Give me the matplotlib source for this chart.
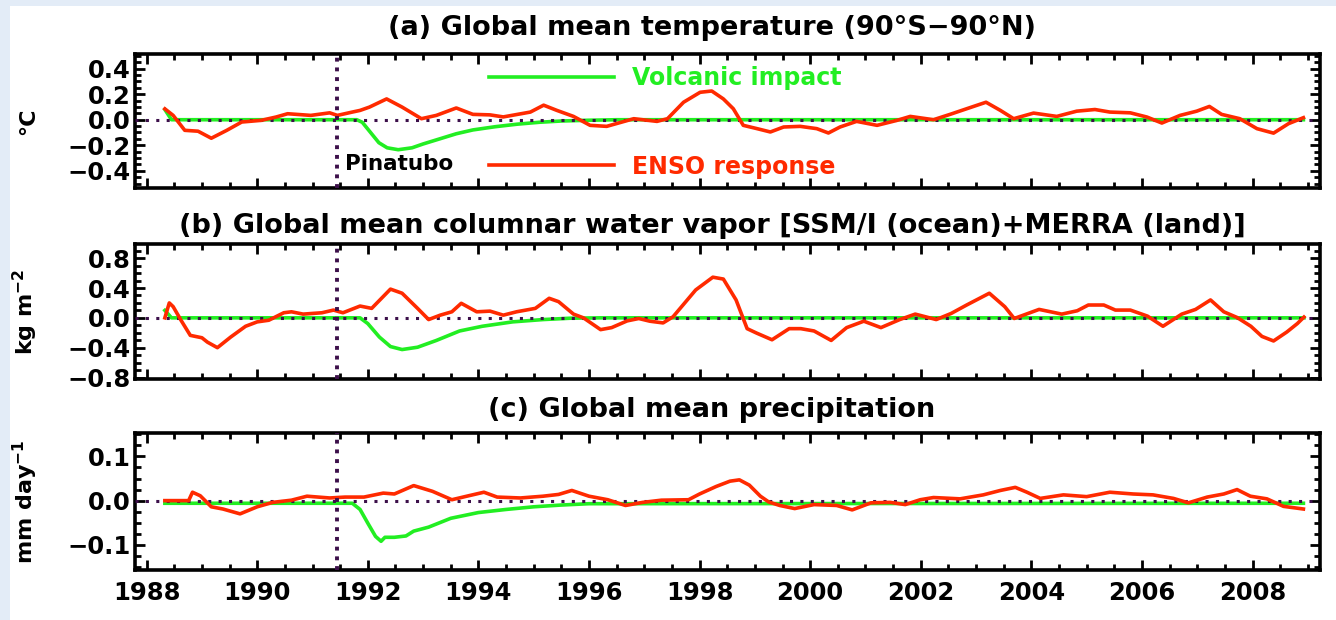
import matplotlib
matplotlib.use("Agg")
import matplotlib.pyplot as plt
from matplotlib.patches import Rectangle
from matplotlib.ticker import MultipleLocator, FuncFormatter
import numpy as np

# ---------------- data ----------------
# (a) temperature, degC
t_enso_yr = [1988.33, 1988.48, 1988.69, 1988.93, 1989.17, 1989.45, 1989.72, 1990.07, 1990.34, 1990.55,
             1990.97, 1991.31, 1991.45, 1991.72, 1991.86, 1992.03, 1992.34, 1992.62, 1992.97, 1993.24,
             1993.6, 1993.9, 1994.21, 1994.45, 1994.94, 1995.18, 1995.42, 1995.72, 1996.02, 1996.32,
             1996.81, 1997.23, 1997.42, 1997.71, 1998.01, 1998.22, 1998.43, 1998.61, 1998.79, 1999.04,
             1999.28, 1999.52, 1999.82, 2000.12, 2000.33, 2000.54, 2000.84, 2001.21, 2001.57, 2001.81,
             2002.23, 2002.53, 2002.83, 2003.18, 2003.44, 2003.68, 2004.04, 2004.46, 2004.82, 2005.15,
             2005.42, 2005.79, 2006.09, 2006.36, 2006.69, 2006.99, 2007.22, 2007.44, 2007.77, 2008.08,
             2008.38, 2008.65, 2008.92]
t_enso = [0.085, 0.034, -0.083, -0.09, -0.145, -0.083, -0.018, -0.005, 0.021, 0.047,
          0.034, 0.054, 0.034, 0.06, 0.073, 0.099, 0.163, 0.099, 0.008, 0.034,
          0.092, 0.042, 0.038, 0.022, 0.06, 0.114, 0.073, 0.026, -0.044, -0.052,
          0.008, -0.013, 0.008, 0.137, 0.215, 0.225, 0.163, 0.086, -0.044, -0.07,
          -0.096, -0.057, -0.052, -0.07, -0.104, -0.057, -0.013, -0.044, -0.005, 0.026,
          0.0, 0.042, 0.086, 0.137, 0.073, 0.008, 0.052, 0.026, 0.067, 0.08,
          0.06, 0.054, 0.021, -0.026, 0.034, 0.067, 0.104, 0.042, 0.008, -0.07,
          -0.105, -0.031, 0.016]
t_volc_yr = [1988.33, 1988.45, 1991.8, 1991.9, 1992.05, 1992.2, 1992.35, 1992.55, 1992.8, 1993.0,
             1993.3, 1993.6, 1993.9, 1994.3, 1994.7, 1995.1, 1995.5, 1996.0, 1996.5, 2008.92]
t_volc = [0.08, 0.0, 0.0, -0.02, -0.1, -0.18, -0.22, -0.235, -0.22, -0.19,
          -0.15, -0.11, -0.08, -0.055, -0.035, -0.02, -0.01, -0.004, 0.0, 0.0]

# (b) columnar water vapor, kg m-2
w_enso_yr = [1988.33, 1988.41, 1988.48, 1988.62, 1988.79, 1989.0, 1989.1, 1989.28, 1989.52, 1989.79,
             1990.0, 1990.21, 1990.48, 1990.62, 1990.83, 1991.17, 1991.38, 1991.55, 1991.86, 1992.07,
             1992.41, 1992.62, 1992.9, 1993.1, 1993.31, 1993.52, 1993.69, 1993.97, 1994.21, 1994.45,
             1994.69, 1995.03, 1995.28, 1995.45, 1995.72, 1995.9, 1996.21, 1996.41, 1996.69, 1996.9,
             1997.1, 1997.34, 1997.52, 1997.93, 1998.24, 1998.43, 1998.66, 1998.86, 1999.03, 1999.31,
             1999.62, 1999.83, 2000.07, 2000.38, 2000.66, 2000.97, 2001.28, 2001.62, 2001.9, 2002.28,
             2002.55, 2002.83, 2003.24, 2003.52, 2003.69, 2004.14, 2004.55, 2004.83, 2005.03, 2005.31,
             2005.52, 2005.79, 2006.1, 2006.38, 2006.72, 2006.97, 2007.24, 2007.48, 2007.72, 2007.97,
             2008.17, 2008.38, 2008.62, 2008.81, 2008.93]
w_enso = [0.0, 0.2, 0.15, -0.03, -0.235, -0.267, -0.326, -0.4, -0.258, -0.113,
          -0.054, -0.032, 0.068, 0.081, 0.05, 0.068, 0.104, 0.068, 0.158, 0.127,
          0.385, 0.33, 0.127, -0.023, 0.036, 0.081, 0.195, 0.081, 0.09, 0.036,
          0.081, 0.127, 0.262, 0.217, 0.05, 0.0, -0.158, -0.131, -0.041, -0.009,
          -0.045, -0.068, 0.014, 0.374, 0.545, 0.52, 0.24, -0.145, -0.204, -0.294,
          -0.145, -0.145, -0.176, -0.303, -0.131, -0.045, -0.131, -0.023, 0.05, -0.023,
          0.059, 0.172, 0.33, 0.149, -0.009, 0.113, 0.05, 0.095, 0.172, 0.172,
          0.104, 0.104, 0.023, -0.113, 0.05, 0.113, 0.24, 0.081, 0.005, -0.113,
          -0.249, -0.31, -0.19, -0.077, 0.01]
w_volc_yr = [1988.33, 1988.45, 1991.86, 1992.0, 1992.21, 1992.41, 1992.62, 1992.9, 1993.24, 1993.66,
             1994.07, 1994.62, 1995.17, 1995.66, 1996.2, 2008.93]
w_volc = [0.1, 0.0, 0.0, -0.077, -0.258, -0.385, -0.425, -0.394, -0.303, -0.176,
          -0.113, -0.054, -0.023, -0.005, 0.0, 0.0]

# (c) precipitation, mm day-1
p_enso_yr = [1988.33, 1988.76, 1988.83, 1988.97, 1989.17, 1989.38, 1989.69, 1990.0, 1990.28, 1990.62,
             1990.9, 1991.31, 1991.59, 1991.93, 1992.28, 1992.48, 1992.83, 1993.17, 1993.52, 1993.79,
             1994.1, 1994.34, 1994.76, 1995.17, 1995.45, 1995.69, 1996.0, 1996.34, 1996.66, 1996.97,
             1997.31, 1997.8, 1998.0, 1998.3, 1998.55, 1998.72, 1998.9, 1999.1, 1999.25, 1999.45,
             1999.72, 2000.07, 2000.48, 2000.76, 2001.1, 2001.45, 2001.72, 2001.99, 2002.23, 2002.71,
             2003.13, 2003.44, 2003.71, 2003.92, 2004.16, 2004.58, 2005.0, 2005.42, 2005.84, 2006.2,
             2006.57, 2006.84, 2007.18, 2007.48, 2007.72, 2007.96, 2008.26, 2008.56, 2008.92]
p_enso = [0.0, 0.0, 0.019, 0.011, -0.014, -0.019, -0.03, -0.014, -0.004, 0.001,
          0.01, 0.006, 0.008, 0.008, 0.017, 0.015, 0.034, 0.021, 0.002, 0.01,
          0.019, 0.008, 0.006, 0.01, 0.014, 0.023, 0.01, 0.002, -0.011, -0.004,
          0.001, 0.002, 0.015, 0.032, 0.044, 0.047, 0.035, 0.01, -0.003, -0.011,
          -0.018, -0.009, -0.011, -0.021, -0.005, -0.004, -0.009, 0.002, 0.007, 0.004,
          0.013, 0.023, 0.03, 0.019, 0.005, 0.013, 0.009, 0.019, 0.015, 0.013,
          0.005, -0.005, 0.008, 0.015, 0.025, 0.01, 0.004, -0.013, -0.019]
p_volc_yr = [1988.33, 1991.72, 1991.86, 1992.0, 1992.14, 1992.24, 1992.31, 1992.48, 1992.69, 1992.83,
             1993.1, 1993.5, 1994.0, 1994.5, 1995.0, 1995.5, 1996.0, 2008.92]
p_volc = [-0.006, -0.006, -0.02, -0.051, -0.081, -0.092, -0.083, -0.083, -0.08, -0.069,
          -0.06, -0.04, -0.027, -0.02, -0.014, -0.01, -0.007, -0.006]

pinatubo_year = 1991.45

titles = ["(a) Global mean temperature (90\u00b0S\u221290\u00b0N)",
          "(b) Global mean columnar water vapor [SSM/I (ocean)+MERRA (land)]",
          "(c) Global mean precipitation"]
ylabels = ["\u00b0C", "kg m$^{\\mathbf{-2}}$", "mm day$^{\\mathbf{-1}}$"]
ylims = [(-0.535, 0.515), (-0.82, 0.99), (-0.157, 0.153)]
ymajor = [0.2, 0.4, 0.1]
yminor = [0.05, 0.1, 0.025]
xtick_years = list(range(1988, 2009, 2))

# ---------------- style ----------------
RED = "#ff2a00"
GREEN = "#22ee22"
PURPLE = "#3c0f4a"
BG = "#e3ecf7"

plt.rcParams["font.family"] = ["DejaVu Sans"]
plt.rcParams["font.weight"] = "bold"
plt.rcParams["mathtext.default"] = "bf"

fig = plt.figure(figsize=(13.36, 6.2), dpi=100, facecolor=BG)
fig.patches.append(Rectangle((10 / 1336, 0), 1 - 10 / 1336, 1 - 6 / 620,
                             transform=fig.transFigure, facecolor="white",
                             edgecolor="none", zorder=-10))

W, H = 1336.0, 620.0
boxes = [(135, 54, 1320, 188), (135, 244, 1320, 379), (135, 433, 1320, 570)]
title_y = [28, 226, 410]

series = [(t_enso_yr, t_enso, t_volc_yr, t_volc),
          (w_enso_yr, w_enso, w_volc_yr, w_volc),
          (p_enso_yr, p_enso, p_volc_yr, p_volc)]

fmt = FuncFormatter(lambda v, p: ("%.1f" % v).replace("-", "\u2212") if abs(v) > 1e-9 else "0.0")

axes = []
for i, (l, t, r, b) in enumerate(boxes):
    ax = fig.add_axes([l / W, 1 - b / H, (r - l) / W, (b - t) / H])
    axes.append(ax)
    ey, ev, vy, vv = series[i]
    ax.axhline(0, color=PURPLE, lw=2.2, ls=(0, (1, 2.4)), zorder=3)
    ax.plot(vy, vv, color=GREEN, lw=2.6, zorder=2, solid_joinstyle="round")
    ax.plot(ey, ev, color=RED, lw=2.6, zorder=4, solid_joinstyle="round")
    ax.axvline(pinatubo_year, color=PURPLE, lw=2.8, ls=(0, (1, 1.5)), zorder=5)

    ax.set_xlim(1987.79, 2009.22)
    ax.set_ylim(*ylims[i])
    ax.xaxis.set_major_locator(MultipleLocator(2))
    ax.xaxis.set_minor_locator(MultipleLocator(0.5))
    ax.yaxis.set_major_locator(MultipleLocator(ymajor[i]))
    ax.yaxis.set_minor_locator(MultipleLocator(yminor[i]))
    ax.yaxis.set_major_formatter(fmt)
    ax.tick_params(which="both", direction="in", top=True, right=True,
                   width=2.0, labelsize=17.5, pad=3)
    ax.tick_params(which="major", length=7)
    ax.tick_params(which="minor", length=4)
    for s in ax.spines.values():
        s.set_linewidth(2.6)
    if i < 2:
        ax.tick_params(labelbottom=False)
    ax.set_ylabel(ylabels[i], fontsize=16, fontweight="bold")
    fig.text(0.533, 1 - title_y[i] / H, titles[i], ha="center", va="center",
             fontsize=19.5, fontweight="bold")

axes[0].yaxis.set_label_coords(-0.082, 0.5)
axes[1].yaxis.set_label_coords(-0.08, 0.5)
axes[2].yaxis.set_label_coords(-0.08, 0.5)

axes[2].set_xticks(xtick_years)
axes[2].set_xticklabels([str(y) for y in xtick_years])
axes[2].tick_params(axis="x", pad=8)

# legend-like annotations in panel (a)
ax = axes[0]
lv, = ax.plot([], [], color=GREEN, lw=2.6)
le, = ax.plot([], [], color=RED, lw=2.6)
leg1 = ax.legend([lv], ["Volcanic impact"], loc="center left",
                 bbox_to_anchor=(0.299, 0.82), frameon=False, borderpad=0,
                 borderaxespad=0, handlelength=5.3, handletextpad=0.75,
                 prop={"size": 17, "weight": "bold"}, labelcolor=GREEN)
ax.add_artist(leg1)
ax.legend([le], ["ENSO response"], loc="center left",
          bbox_to_anchor=(0.299, 0.16), frameon=False, borderpad=0,
          borderaxespad=0, handlelength=5.3, handletextpad=0.75,
          prop={"size": 17, "weight": "bold"}, labelcolor=RED)
ax.text(pinatubo_year + 0.14, -0.35, "Pinatubo", fontsize=15.5, fontweight="bold",
        va="center", ha="left", color="black", zorder=6)

fig.savefig("out.png", dpi=100, facecolor=BG)
